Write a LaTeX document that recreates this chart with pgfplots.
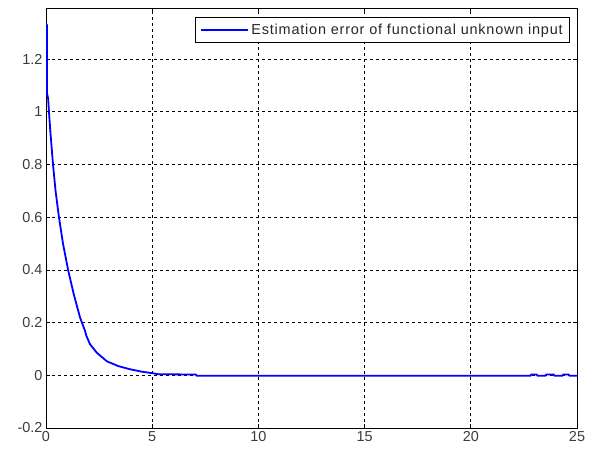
\documentclass[border=0pt]{standalone}
\usepackage{pgfplots}
\pgfplotsset{compat=1.18}
\usepackage{fontspec}
\setmainfont{Liberation Sans}
\definecolor{tickgray}{RGB}{60,60,60}
\begin{document}
\begin{tikzpicture}
\begin{axis}[
  scale only axis,
  width=531bp, height=420bp,
  xmin=0, xmax=25, ymin=-0.2, ymax=1.394,
  xtick={0,5,10,15,20,25},
  ytick={-0.2,0,0.2,0.4,0.6,0.8,1,1.2},
  yticklabels={-0.2,0,0.2,0.4,0.6,0.8,1,1.2},
  xticklabels={0,5,10,15,20,25},
  tick align=inside,
  major tick length=4bp,
  tick style={black, line width=0.8bp},
  axis line style={black, line width=0.9bp},
  grid=major,
  major grid style={black, dash pattern=on 3bp off 3bp, line width=0.7bp},
  tick label style={font=\fontsize{14.5}{17}\selectfont, text=tickgray},
  legend style={at={(0.987,0.979)}, anchor=north east,
    font=\fontsize{14.5}{16}\selectfont\addfontfeatures{LetterSpace=5.5},
    draw=black, line width=0.8bp, text=black!85,
    inner xsep=5bp, inner ysep=4.5bp, row sep=0bp},
  legend cell align=left,
  legend image code/.code={\draw[#1, line width=2bp] (0bp,0bp) -- (47bp,0bp);},
]
\addplot[blue, line width=1.8bp] coordinates {
(0,1.33) (0.04,1.33) (0.05,1.07) (0.1,1.05) (0.14,1.0) (0.2,0.93)
(0.33,0.80) (0.45,0.70) (0.61,0.60) (0.8,0.50) (1.04,0.40) (1.3,0.31)
(1.6,0.22) (1.84,0.168) (1.9,0.15) (2.07,0.118) (2.4,0.085) (2.87,0.053) (3.4,0.035)
(3.95,0.023) (4.5,0.014) (5,0.008) (5.3,0.004) (7.05,0.003) (7.1,-0.002)
(22.8,-0.002) (22.85,0.003) (23.1,0.003) (23.15,-0.002) (23.5,-0.002)
(23.55,0.003) (23.9,0.003) (23.95,-0.002) (24.3,-0.002) (24.35,0.003)
(24.6,0.003) (24.65,-0.002) (25,-0.002)
};
\addlegendentry{Estimation error of functional unknown input}
\end{axis}
\path[use as bounding box] ([xshift=-46bp,yshift=-22bp]current axis.south west) rectangle ([xshift=19bp,yshift=8bp]current axis.north east);
\end{tikzpicture}
\end{document}
